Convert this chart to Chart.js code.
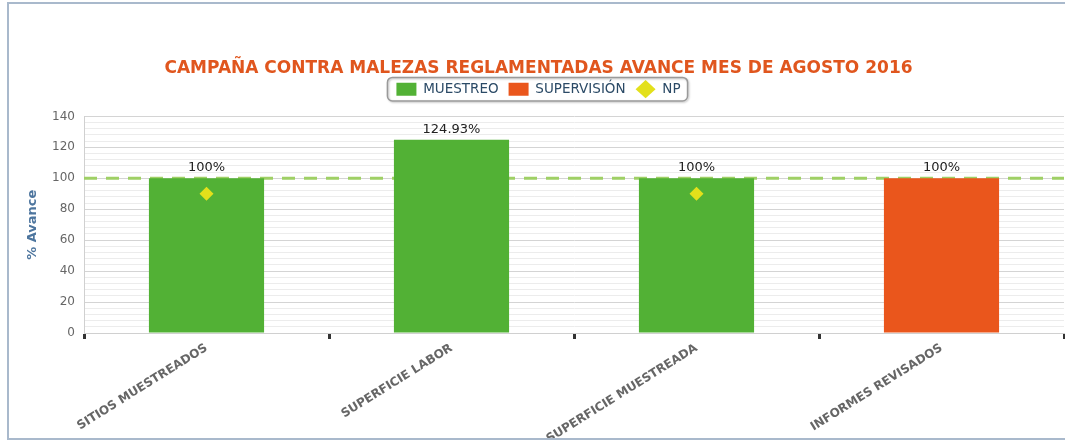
<!DOCTYPE html>
<html>
<head>
<meta charset="utf-8">
<script src="https://cdn.jsdelivr.net/npm/chart.js@4.4.0/dist/chart.umd.min.js"></script>
<style>
  html, body { margin: 0; padding: 0; background: #fff; overflow: hidden; }
  #frame {
    position: absolute; left: 7px; top: 2px;
    width: 1070px; height: 434px;
    border: 2px solid #a9b9cc;
  }
  #wrap { position: absolute; left: 0; top: 0; width: 1062px; height: 434px; }
</style>
</head>
<body>
<div id="frame"><div id="wrap"><canvas id="avanceChart"></canvas></div></div>
<script>
// Chart data
const categories = ["SITIOS MUESTREADOS", "SUPERFICIE LABOR", "SUPERFICIE MUESTREADA", "INFORMES REVISADOS"];
const muestreo = [100, 124.93, 100, null];
const supervision = [null, null, null, 100];
const np = [90, null, 90, null];
const metaLine = 100;

const GREEN = "#52b135";
const ORANGE = "#ea561c";
const YELLOW = "#e3e01b";

// data labels above bars + dashed target line + legend border
const extrasPlugin = {
  id: "extras",
  beforeInit(chart) {
    const legend = chart.legend;
    const origFit = legend.fit;
    legend.fit = function () {
      origFit.call(this);
      this.height = 44;
    };
  },
  beforeDatasetsDraw(chart) {
    const { ctx, chartArea, scales } = chart;
    const y = scales.y.getPixelForValue(metaLine);
    ctx.save();
    ctx.strokeStyle = "#9fd065";
    ctx.lineWidth = 3;
    ctx.setLineDash([13, 9]);
    ctx.beginPath();
    ctx.moveTo(chartArea.left, y);
    ctx.lineTo(chartArea.right, y);
    ctx.stroke();
    ctx.restore();
  },
  afterDatasetsDraw(chart) {
    const { ctx } = chart;
    ctx.save();
    ctx.font = "13px 'DejaVu Sans', sans-serif";
    ctx.fillStyle = "#222";
    ctx.textAlign = "center";
    ctx.textBaseline = "bottom";
    [0, 1].forEach((di) => {
      const meta = chart.getDatasetMeta(di);
      meta.data.forEach((bar, i) => {
        const v = chart.data.datasets[di].data[i];
        if (v === null) return;
        ctx.fillText(v + "%", bar.x, bar.y - 4);
      });
    });
    ctx.restore();
  },
  afterDraw(chart) {
    const boxes = chart.legend.legendHitBoxes;
    if (!boxes || !boxes.length) return;
    let l = Infinity, r = -Infinity, t = Infinity, b = -Infinity;
    boxes.forEach((h) => {
      l = Math.min(l, h.left); r = Math.max(r, h.left + h.width);
      t = Math.min(t, h.top); b = Math.max(b, h.top + h.height);
    });
    const ctx = chart.ctx;
    ctx.save();
    ctx.strokeStyle = "#9a9a9a";
    ctx.lineWidth = 1.5;
    ctx.shadowColor = "rgba(0,0,0,0.25)";
    ctx.shadowOffsetX = 1;
    ctx.shadowOffsetY = 1;
    ctx.shadowBlur = 2;
    ctx.beginPath();
    ctx.roundRect(l - 9, t - 5, r - l + 16, b - t + 10, 5);
    ctx.stroke();
    ctx.restore();
  }
};

const ctx = document.getElementById("avanceChart").getContext("2d");

new Chart(ctx, {
  type: "bar",
  data: {
    labels: categories,
    datasets: [
      {
        label: "MUESTREO",
        data: muestreo,
        backgroundColor: GREEN,
        pointStyle: "rect",
        order: 1,
      },
      {
        label: "SUPERVISIÓN",
        data: supervision,
        backgroundColor: ORANGE,
        pointStyle: "rect",
        order: 1,
      },
      {
        type: "line",
        label: "NP",
        data: np,
        showLine: false,
        pointStyle: "rectRot",
        pointRadius: 7,
        backgroundColor: YELLOW,
        borderColor: YELLOW,
        borderWidth: 0,
        order: 0,
      },
    ],
  },
  options: {
    responsive: true,
    maintainAspectRatio: false,
    animation: false,
    layout: { padding: { top: 0, right: 3, left: 0, bottom: 0 } },
    datasets: {
      bar: { grouped: false, categoryPercentage: 1, barPercentage: 0.47 },
    },
    plugins: {
      tooltip: { enabled: false },
      title: {
        display: true,
        text: "CAMPAÑA CONTRA MALEZAS REGLAMENTADAS AVANCE MES DE AGOSTO 2016",
        color: "#e0561e",
        font: { family: "'DejaVu Sans', sans-serif", size: 17, weight: "bold" },
        padding: { top: 54, bottom: -6 },
      },
      legend: {
        display: true,
        labels: {
          usePointStyle: true,
          pointStyleWidth: 20,
          boxHeight: 13,
          padding: 10,
          color: "#2b4a66",
          font: { family: "'DejaVu Sans', sans-serif", size: 13.5 },
          sort: (a, b) => a.datasetIndex - b.datasetIndex,
        },
      },
    },
    scales: {
      x: {
        offset: true,
        afterFit(scale) { scale.height = 105; },
        grid: {
          offset: true,
          drawOnChartArea: false,
          drawTicks: true,
          tickLength: 6,
          tickColor: "#333",
          tickWidth: 3,
        },
        border: { color: "#d0d0d0" },
        ticks: {
          minRotation: 32,
          maxRotation: 32,
          autoSkip: false,
          padding: 2,
          color: "#666",
          font: { family: "'DejaVu Sans', sans-serif", size: 12, weight: "bold" },
        },
      },
      y: {
        min: 0,
        max: 140,
        afterFit(scale) { scale.width = 75; },
        title: {
          display: true,
          text: "% Avance",
          color: "#4d759e",
          padding: { top: 16, bottom: 0 },
          font: { family: "'DejaVu Sans', sans-serif", size: 13, weight: "bold" },
        },
        border: { color: "#d0d0d0" },
        grid: {
          drawTicks: false,
          color: (c) => (c.tick && c.tick.value % 20 === 0 ? "#d4d4d4" : "#ececec"),
        },
        ticks: {
          stepSize: 4,
          autoSkip: false,
          padding: 9,
          color: "#666",
          font: { family: "'DejaVu Sans', sans-serif", size: 12 },
          callback: (v) => (v % 20 === 0 ? v : ""),
        },
      },
    },
  },
  plugins: [extrasPlugin],
});
</script>
</body>
</html>
